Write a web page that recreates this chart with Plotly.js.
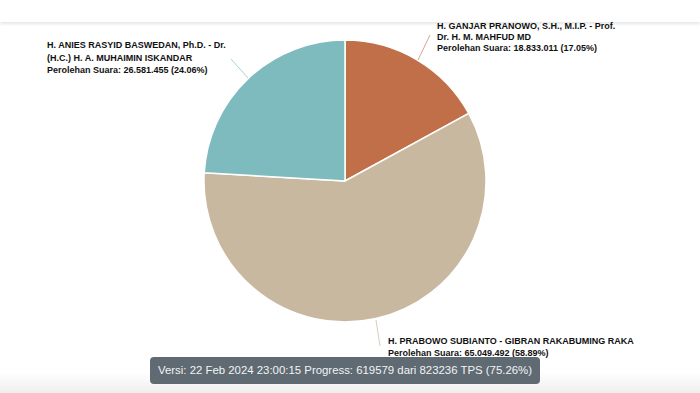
<!DOCTYPE html>
<html>
<head>
<meta charset="utf-8">
<script src="https://cdn.plot.ly/plotly-3.0.1.min.js"></script>
<style>
  html, body { margin: 0; padding: 0; background: #ffffff; }
  #wrap { position: relative; width: 700px; height: 393px; overflow: hidden; background: #fff; }
  #chart { position: absolute; left: 0; top: 0; width: 700px; height: 393px; }
  #header { position: absolute; left: 0; top: 0; width: 700px; height: 22px; background: #fff;
            box-shadow: 0 2px 3px rgba(0,0,0,0.10); z-index: 5; }
  #footer { position: absolute; left: 0; top: 372px; width: 700px; height: 21px;
            background: linear-gradient(#ffffff, #efefef); z-index: 2; }
  #badge { position: absolute; left: 150px; top: 357px; width: 390px; height: 27px; box-sizing: border-box;
           background: #5f6a73; border-radius: 4px; color: #f2f4f5; z-index: 6;
           font-family: "Liberation Sans", Arial, sans-serif; font-size: 11.4px; line-height: 27px;
           padding-left: 8px; white-space: nowrap; }
</style>
</head>
<body>
<div id="wrap">
  <div id="chart"></div>
  <div id="header"></div>
  <div id="footer"></div>
  <div id="badge"></div>
</div>
<script>
// ---- data ----
var nameLines = [
  ["H. GANJAR PRANOWO, S.H., M.I.P. - Prof.", "Dr. H. M. MAHFUD MD"],
  ["H. PRABOWO SUBIANTO - GIBRAN RAKABUMING RAKA"],
  ["H. ANIES RASYID BASWEDAN, Ph.D. - Dr.", "(H.C.) H. A. MUHAIMIN ISKANDAR"]
];
var shortNames = ["Ganjar - Mahfud", "Prabowo - Gibran", "Anies - Muhaimin"];
var votes = [18833011, 65049492, 26581455];
var sliceColors = ["#c16f48", "#c9b8a0", "#7ebbbe"];
var lineColors = ["#d9a58c", "#d8cdbd", "#a9d3d5"];
var versionText = "Versi: 22 Feb 2024 23:00:15 Progress: 619579 dari 823236 TPS (75.26%)";

// ---- layout helpers (label placement, in px of the 700x393 page) ----
var W = 700, H = 393;
var labelPos = [ {x: 435, y: 26.2, step: 11.1}, {x: 386, y: 340.5, step: 12}, {x: 45, y: 45.5, step: 12.4} ];
var leader = [ [[418, 60], [430, 35]], [[376, 320], [380, 346]], [[248, 78], [231, 59]] ];

function fmt(n) { return n.toString().replace(/\B(?=(\d{3})+(?!\d))/g, "."); }
var total = votes.reduce(function (a, b) { return a + b; }, 0);

var annotations = [];
var shapes = [];
for (var i = 0; i < votes.length; i++) {
  var lines = nameLines[i].slice();
  lines.push("Perolehan Suara: " + fmt(votes[i]) + " (" + (votes[i] / total * 100).toFixed(2) + "%)");
  for (var j = 0; j < lines.length; j++) {
    annotations.push({
      xref: "paper", yref: "paper",
      x: labelPos[i].x / W, y: 1 - (labelPos[i].y + j * labelPos[i].step) / H,
      xanchor: "left", yanchor: "middle", align: "left",
      text: "<b>" + lines[j] + "</b>", showarrow: false,
      font: {family: "Liberation Sans, Arial, sans-serif", size: 9, color: "#111"}
    });
  }
  shapes.push({
    type: "line", xref: "paper", yref: "paper",
    x0: leader[i][0][0] / W, y0: 1 - leader[i][0][1] / H,
    x1: leader[i][1][0] / W, y1: 1 - leader[i][1][1] / H,
    line: {color: lineColors[i], width: 1}
  });
}

var cx = 345, cy = 181, r = 141;
var trace = {
  type: "pie",
  labels: shortNames,
  values: votes,
  sort: false,
  direction: "clockwise",
  rotation: 0,
  marker: {colors: sliceColors, line: {color: "#ffffff", width: 1.5}},
  textinfo: "none",
  hoverinfo: "skip",
  showlegend: false,
  domain: {x: [(cx - r) / W, (cx + r) / W], y: [1 - (cy + r) / H, 1 - (cy - r) / H]}
};

var layout = {
  width: W, height: H,
  margin: {l: 0, r: 0, t: 0, b: 0},
  paper_bgcolor: "#ffffff",
  showlegend: false,
  annotations: annotations,
  shapes: shapes
};

Plotly.newPlot("chart", [trace], layout, {displayModeBar: false, staticPlot: true});
document.getElementById("badge").textContent = versionText;
</script>
</body>
</html>
